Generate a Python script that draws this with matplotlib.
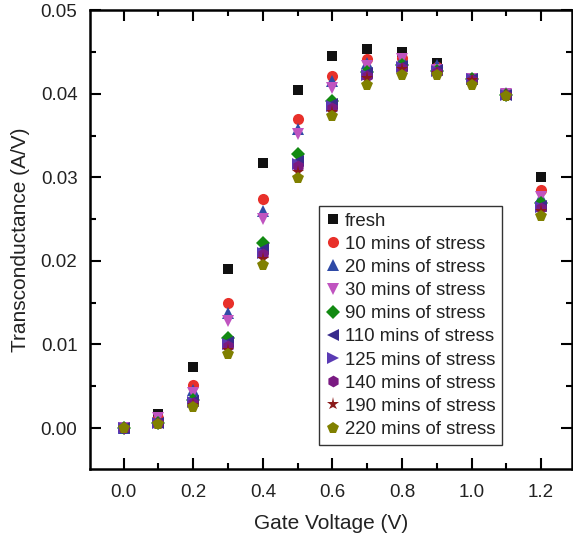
import matplotlib
matplotlib.use("Agg")
import matplotlib.pyplot as plt
from matplotlib.ticker import MultipleLocator

plt.rcParams['font.family'] = ['Liberation Sans', 'DejaVu Sans']

# gate voltage (V)
vg = [0.0, 0.1, 0.2, 0.3, 0.4, 0.5, 0.6, 0.7, 0.8, 0.9, 1.0, 1.1, 1.2]

# transconductance (A/V) for each stress time
gm_fresh = [0.0, 0.0017, 0.0073, 0.0190, 0.0317, 0.0404, 0.0445, 0.0454, 0.0450, 0.0437, 0.0418, 0.0398, 0.0300]
gm_10 = [0.0, 0.0012, 0.0052, 0.0150, 0.0274, 0.0370, 0.0421, 0.0442, 0.0443, 0.0432, 0.0418, 0.0400, 0.0285]
gm_20 = [0.0, 0.0011, 0.0045, 0.0138, 0.0260, 0.0358, 0.0415, 0.0437, 0.0441, 0.0435, 0.0418, 0.0401, 0.0277]
gm_30 = [0.0, 0.0012, 0.0042, 0.0128, 0.0250, 0.0352, 0.0407, 0.0433, 0.0442, 0.0429, 0.0418, 0.0400, 0.0277]
gm_90 = [0.0, 0.0006, 0.0034, 0.0108, 0.0222, 0.0328, 0.0391, 0.0426, 0.0434, 0.0427, 0.0418, 0.0399, 0.0269]
gm_110 = [0.0, 0.0006, 0.0032, 0.0103, 0.0214, 0.0320, 0.0388, 0.0425, 0.0433, 0.0428, 0.0418, 0.0399, 0.0266]
gm_125 = [0.0, 0.0006, 0.0031, 0.0100, 0.0210, 0.0316, 0.0385, 0.0423, 0.0432, 0.0427, 0.0418, 0.0399, 0.0265]
gm_140 = [0.0, 0.0006, 0.0030, 0.0098, 0.0208, 0.0313, 0.0383, 0.0421, 0.0431, 0.0426, 0.0417, 0.0399, 0.0263]
gm_190 = [0.0, 0.0005, 0.0027, 0.0093, 0.0202, 0.0306, 0.0378, 0.0419, 0.0430, 0.0425, 0.0417, 0.0398, 0.0260]
gm_220 = [0.0, 0.0005, 0.0025, 0.0089, 0.0195, 0.0299, 0.0373, 0.0410, 0.0422, 0.0423, 0.0410, 0.0397, 0.0254]

labels = ["fresh", "10 mins of stress", "20 mins of stress", "30 mins of stress",
          "90 mins of stress", "110 mins of stress", "125 mins of stress",
          "140 mins of stress", "190 mins of stress", "220 mins of stress"]
series = [gm_fresh, gm_10, gm_20, gm_30, gm_90, gm_110, gm_125, gm_140, gm_190, gm_220]
markers = ["s", "o", "^", "v", "D", "<", ">", "h", "*", "p"]
colors = ["#111111", "#e8302a", "#2f4aa6", "#c054c0", "#128a12",
          "#382c8c", "#5a3ab4", "#7a1a82", "#8a1a1a", "#808000"]
sizes = [7, 8, 8.5, 8.5, 7, 8.5, 8.5, 8.5, 9.5, 8.5]

fig = plt.figure(figsize=(5.73, 5.36), dpi=100)
ax = fig.add_axes([0.157, 0.125, 0.842, 0.856])

for y, lab, m, c, s in zip(series, labels, markers, colors, sizes):
    ax.plot(vg, y, linestyle="none", marker=m, color=c, markersize=s,
            markeredgewidth=0, label=lab)

ax.set_xlim(-0.097, 1.29)
ax.set_ylim(-0.0049, 0.05)
ax.xaxis.set_major_locator(MultipleLocator(0.2))
ax.xaxis.set_minor_locator(MultipleLocator(0.1))
ax.yaxis.set_major_locator(MultipleLocator(0.01))
ax.yaxis.set_minor_locator(MultipleLocator(0.005))
ax.yaxis.set_major_formatter(plt.FormatStrFormatter("%.2f"))
ax.xaxis.set_major_formatter(plt.FormatStrFormatter("%.1f"))

ax.tick_params(which="both", direction="in", top=True, right=True, labelsize=13.5,
               width=1.5, labelcolor="#222222")
ax.tick_params(which="major", length=8)
ax.tick_params(which="minor", length=4)
ax.tick_params(axis="x", which="major", pad=11)
ax.tick_params(axis="y", which="major", pad=9)
for sp in ax.spines.values():
    sp.set_linewidth(1.8)

ax.set_xlabel("Gate Voltage (V)", fontsize=15, labelpad=9, color="#222222")
ax.set_ylabel("Transconductance (A/V)", fontsize=15, labelpad=8, color="#222222")

leg = ax.legend(loc="lower left", bbox_to_anchor=(0.474, 0.053), fontsize=13.4,
                handlelength=0.8, handletextpad=0.25, labelspacing=0.33,
                borderpad=0.35, fancybox=False, framealpha=1, borderaxespad=0)
for t in leg.get_texts():
    t.set_color("#222222")
leg.get_frame().set_edgecolor("#333333")
leg.get_frame().set_linewidth(1.0)

fig.savefig("out.png", dpi=100)
